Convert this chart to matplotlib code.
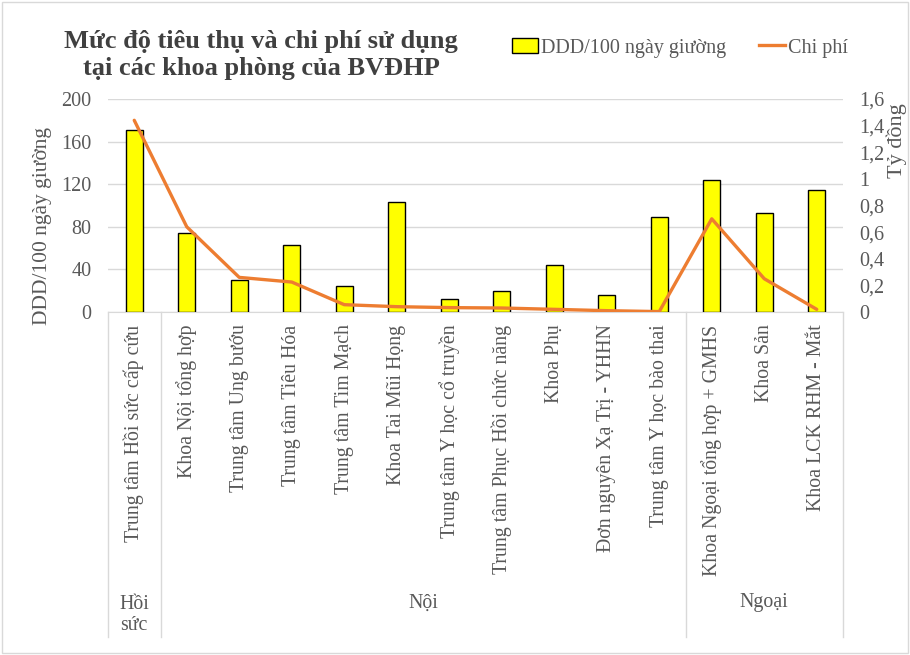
import matplotlib
matplotlib.use("Agg")
import matplotlib.pyplot as plt
from matplotlib.patches import Rectangle
from matplotlib.lines import Line2D
from matplotlib.ticker import FuncFormatter

categories = ["Trung tâm Hồi sức cấp cứu", "Khoa Nội tổng hợp", "Trung tâm Ung bướu",
              "Trung tâm Tiêu Hóa", "Trung tâm Tim Mạch", "Khoa Tai Mũi Họng",
              "Trung tâm Y học cổ truyền", "Trung tâm Phục Hồi chức năng", "Khoa Phụ",
              "Đơn nguyên Xạ Trị - YHHN", "Trung tâm Y học bào thai",
              "Khoa Ngoại tổng hợp + GMHS", "Khoa Sản", "Khoa LCK RHM - Mắt"]
groups = ["Hồi\nsức", "Nội", "Ngoại"]
group_sizes = [1, 10, 3]
ddd = [171, 74.5, 30.5, 63, 24.5, 103, 12, 20, 44, 15.5, 89, 123.5, 92.5, 114.5]
chi_phi = [1.44, 0.64, 0.26, 0.225, 0.055, 0.04, 0.033, 0.03, 0.02, 0.01, 0.003, 0.70, 0.25, 0.02]
left_ticks = [0, 40, 80, 120, 160, 200]
right_ticks = [0, 0.2, 0.4, 0.6, 0.8, 1.0, 1.2, 1.4, 1.6]

plt.rcParams['font.family'] = ['Liberation Serif', 'DejaVu Serif']
GRAY = "#595959"
W, H = 910, 655
fig = plt.figure(figsize=(W / 100, H / 100), dpi=100)
fig.patches.append(Rectangle((2 / W, 2 / H), 1 - 4 / W, 1 - 4 / H, transform=fig.transFigure,
                             fill=False, edgecolor="#D9D9D9", lw=1))

x0, x1, ytop, ybot = 108, 843, 99, 312
ax = fig.add_axes([x0 / W, (H - ybot) / H, (x1 - x0) / W, (ybot - ytop) / H])
n = len(categories)
xs = list(range(n))
ax.bar(xs, ddd, width=0.33, color="#FFFF00", edgecolor="black", linewidth=1.0, zorder=3)
ax.set_xlim(-0.5, n - 0.5)
ax.set_ylim(0, 200)
ax.set_yticks(left_ticks)
ax.yaxis.grid(True, color="#D9D9D9", lw=1)
ax.set_axisbelow(True)
for s in ["top", "left", "right"]:
    ax.spines[s].set_visible(False)
ax.spines["bottom"].set_color("#D9D9D9")
ax.tick_params(axis="y", length=0, pad=12, labelsize=14.5, labelcolor=GRAY)
ax.tick_params(axis="x", length=0, pad=9, labelsize=14.3, labelcolor=GRAY)
ax.set_xticks(xs)
ax.set_xticklabels(categories, rotation=90, va="top", ha="center")

ax2 = ax.twinx()
ax2.plot(xs, chi_phi, color="#ED7D31", lw=2.4, zorder=4, solid_capstyle="round")
ax2.set_ylim(0, 1.6)
ax2.set_yticks(right_ticks)
ax2.yaxis.set_major_formatter(FuncFormatter(lambda v, p: ("%g" % round(v, 1)).replace(".", ",")))
ax2.tick_params(axis="y", length=0, pad=12, labelsize=14.5, labelcolor=GRAY)
for s in ["top", "left", "right", "bottom"]:
    ax2.spines[s].set_visible(False)

# category separators and group labels
ybottom_frac = (ybot - 637) / (ybot - ytop)
trans = ax.get_xaxis_transform()
bounds = [-0.5]
for g in group_sizes:
    bounds.append(bounds[-1] + g)
for b in bounds:
    ax.add_line(Line2D([b, b], [0, ybottom_frac], transform=trans, color="#D9D9D9", lw=1, clip_on=False))
for i, g in enumerate(groups):
    c = (bounds[i] + bounds[i + 1]) / 2
    yc = (ybot - 615) / (ybot - ytop) if "\n" in g else (ybot - 603) / (ybot - ytop)
    ax.text(c, yc, g, transform=trans, ha="center", va="center", fontsize=14.3, color=GRAY,
            linespacing=1.15)

fig.text(43 / W, 1 - 226 / H, "DDD/100 ngày giường", rotation=90, ha="center", va="center",
         fontsize=15.5, color=GRAY)
fig.text(897 / W, 1 - 141 / H, "Tỷ đồng", rotation=90, ha="center", va="center",
         fontsize=16, color=GRAY)
fig.text(261 / W, 1 - 55 / H, "Mức độ tiêu thụ và chi phí sử dụng\ntại các khoa phòng của BVĐHP",
         ha="center", va="center", fontsize=19, fontweight="bold", color="#404040", linespacing=1.25)

handles = [Rectangle((0, 0), 1, 1, facecolor="#FFFF00", edgecolor="black", lw=1.0),
           Line2D([0], [0], color="#ED7D31", lw=2.4)]
fig.legend(handles, ["DDD/100 ngày giường", "Chi phí"], loc="center", bbox_to_anchor=(680 / W, 1 - 48 / H),
           ncol=2, frameon=False, fontsize=14.5, labelcolor=GRAY, handlelength=1.3, handletextpad=0.15,
           columnspacing=1.6, handleheight=0.7)

fig.savefig("out.png", dpi=100)
